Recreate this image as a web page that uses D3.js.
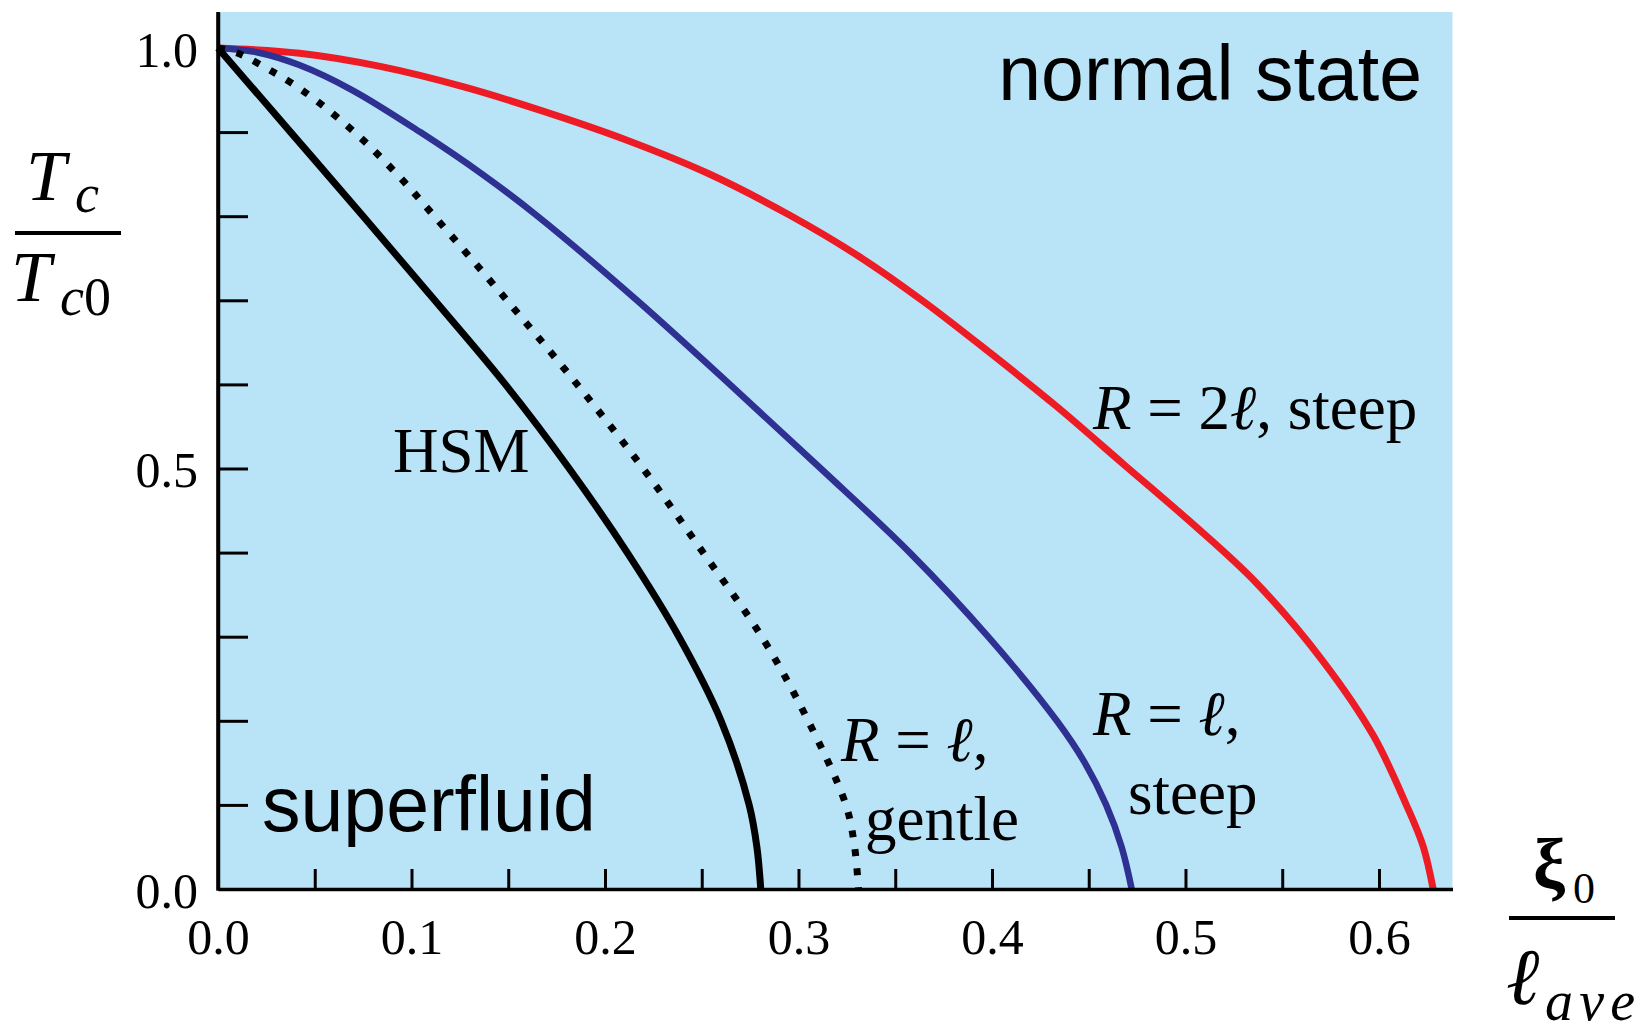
<!DOCTYPE html>
<html>
<head>
<meta charset="utf-8">
<script src="https://cdn.jsdelivr.net/npm/d3@7"></script>
<style>
  body { margin: 0; background: #fff; }
  svg { display: block; }
  text { fill: #000; }
</style>
</head>
<body>
<div id="chart"></div>
<script>
// curve data: [xi0 / l_ave, Tc / Tc0]
const hsmCurve = [
  [0, 1], [0.0375, 0.9], [0.075, 0.8], [0.112, 0.7], [0.1485, 0.6], [0.1815, 0.5],
  [0.2115, 0.4], [0.2382, 0.3], [0.26, 0.2], [0.2745, 0.1], [0.2785, 0.05], [0.2805, 0],
];
const gentleCurve = [
  [0, 1], [0.01, 0.994], [0.022, 0.98], [0.0434, 0.95], [0.0705, 0.9], [0.0925, 0.85],
  [0.1118, 0.8], [0.1493, 0.7], [0.1856, 0.6], [0.2197, 0.5], [0.2507, 0.4], [0.281, 0.3],
  [0.305, 0.2], [0.3245, 0.1], [0.329, 0.05], [0.331, 0],
];
const steepCurve = [
  [0, 1], [0.02, 0.995], [0.0417, 0.98], [0.0693, 0.95], [0.1045, 0.9], [0.1365, 0.85],
  [0.1652, 0.8], [0.2165, 0.7], [0.2645, 0.6], [0.3115, 0.5], [0.3575, 0.4], [0.398, 0.3],
  [0.4335, 0.2], [0.448, 0.15], [0.459, 0.1], [0.467, 0.05], [0.4722, 0],
];
const steep2Curve = [
  [0, 1], [0.0422, 0.9937], [0.0844, 0.9778], [0.1266, 0.954], [0.1687, 0.9243], [0.211, 0.8906],
  [0.2531, 0.851], [0.2953, 0.8014], [0.3307, 0.753], [0.365, 0.698], [0.399, 0.6375], [0.4334, 0.5738],
  [0.4679, 0.5053], [0.5023, 0.437], [0.5368, 0.3635], [0.5712, 0.2705], [0.5971, 0.1824],
  [0.6143, 0.0992], [0.6229, 0.0503], [0.628, 0],
];
const xTicks = [0.05, 0.1, 0.15, 0.2, 0.25, 0.3, 0.35, 0.4, 0.45, 0.5, 0.55, 0.6];
const xTickLabels = [0.1, 0.2, 0.3, 0.4, 0.5, 0.6];
const yTicks = [0.1, 0.2, 0.3, 0.4, 0.5, 0.6, 0.7, 0.8, 0.9];
const yTickLabels = [0, 0.5, 1];

const width = 1647, height = 1034;
const serif = "'Liberation Serif', 'Times New Roman', 'DejaVu Serif', serif";
const sans = "'Liberation Sans', Arial, 'DejaVu Sans', sans-serif";

const svg = d3.select('#chart').append('svg').attr('width', width).attr('height', height);
const x = d3.scaleLinear([0, 0.638], [218, 1452.5]);
const y = d3.scaleLinear([0, 1.0428], [889, 12]);

svg.append('rect').attr('x', x(0)).attr('y', y(1.0428)).attr('width', x(0.638) - x(0)).attr('height', y(0) - y(1.0428)).attr('fill', '#b9e4f8');

const line = d3.line().x((d) => x(d[0])).y((d) => y(d[1])).curve(d3.curveCatmullRom.alpha(0.5));
const curves = [
  { data: steep2Curve, color: '#ed1c24', w: 7, dash: null },
  { data: steepCurve, color: '#2e3192', w: 6.5, dash: null },
  { data: gentleCurve, color: '#000', w: 7, dash: '7,12' },
  { data: hsmCurve, color: '#000', w: 7, dash: null },
];
svg.append('g').selectAll('path').data(curves).join('path')
  .attr('d', (d) => line(d.data)).attr('fill', 'none').attr('stroke', (d) => d.color)
  .attr('stroke-width', (d) => d.w).attr('stroke-dasharray', (d) => d.dash);

// axes, ticks pointing inside
const fmt = d3.format('.1f');
const xAxis = d3.axisBottom(x).tickValues([0, ...xTicks]).tickSizeInner(-20).tickSizeOuter(0).tickPadding(29)
  .tickFormat((d) => (d === 0 || xTickLabels.includes(d) ? fmt(d) : ''));
const yAxis = d3.axisLeft(y).tickValues([0, ...yTicks, 1]).tickSizeInner(-30).tickSizeOuter(0).tickPadding(20)
  .tickFormat((d) => (yTickLabels.includes(d) ? fmt(d) : ''));

const gx = svg.append('g').attr('transform', `translate(0,${y(0)})`).call(xAxis);
const gy = svg.append('g').attr('transform', `translate(${x(0)},0)`).call(yAxis);
[gx, gy].forEach((g) => {
  g.select('.domain').attr('stroke', '#000').attr('stroke-width', 3.5);
  g.selectAll('.tick line').attr('stroke', '#000').attr('stroke-width', 3);
  g.selectAll('.tick text').attr('font-family', serif).attr('font-size', 50).attr('fill', '#000');
});
gy.selectAll('.tick text').attr('dy', '0.37em');
gy.selectAll('.tick').filter((d) => d === 0 || d === 1).select('line').remove();
gx.selectAll('.tick').filter((d) => d === 0).select('line').remove();
svg.append('rect').attr('x', x(0) - 1.75).attr('y', y(1.0428)).attr('width', 3.5).attr('height', y(0) - y(1.0428) + 1.75).attr('fill', '#000');

// region labels
svg.append('text').attr('x', 1422).attr('y', 100).attr('text-anchor', 'end')
  .attr('font-family', sans).attr('font-size', 77).text('normal state');
svg.append('text').attr('x', 262).attr('y', 831)
  .attr('font-family', sans).attr('font-size', 77).text('superfluid');

// curve labels
const label = (xx, yy, parts) => {
  const t = svg.append('text').attr('x', xx).attr('y', yy).attr('font-family', serif).attr('font-size', 63);
  parts.forEach(([s, it]) => t.append('tspan').attr('font-style', it ? 'italic' : 'normal').text(s));
  return t;
};
label(393, 472, [['HSM', false]]);
label(1093, 429, [['R', true], [' = 2', false], ['ℓ', true], [', steep', false]]);
label(1093, 735, [['R', true], [' = ', false], ['ℓ', true], [',', false]]);
label(1128, 814, [['steep', false]]);
label(841, 761, [['R', true], [' = ', false], ['ℓ', true], [',', false]]);
label(865, 840, [['gentle', false]]);

// y axis title: Tc / Tc0
const yt = svg.append('g').attr('font-family', serif);
yt.append('text').attr('x', 26).attr('y', 200).attr('font-size', 72).attr('font-style', 'italic').text('T');
yt.append('text').attr('x', 75).attr('y', 212).attr('font-size', 54).attr('font-style', 'italic').text('c');
yt.append('rect').attr('x', 15).attr('y', 231).attr('width', 106).attr('height', 4);
yt.append('text').attr('x', 11).attr('y', 301).attr('font-size', 72).attr('font-style', 'italic').text('T');
const sub = yt.append('text').attr('x', 60).attr('y', 315).attr('font-size', 54);
sub.append('tspan').attr('font-style', 'italic').text('c');
sub.append('tspan').text('0');

// x axis title: xi0 / l_ave
const xt = svg.append('g').attr('font-family', serif);
xt.append('text').attr('x', 1533).attr('y', 889).attr('font-size', 72).attr('font-weight', 'bold').text('ξ');
xt.append('text').attr('x', 1573).attr('y', 903).attr('font-size', 44).text('0');
xt.append('rect').attr('x', 1509).attr('y', 916).attr('width', 106).attr('height', 4);
xt.append('text').attr('x', 1506).attr('y', 1004).attr('font-size', 80).attr('font-style', 'italic').text('ℓ');
xt.append('text').attr('x', 1545).attr('y', 1020).attr('font-size', 56).attr('font-style', 'italic')
  .attr('textLength', 90).attr('lengthAdjust', 'spacing').text('ave');
</script>
</body>
</html>
